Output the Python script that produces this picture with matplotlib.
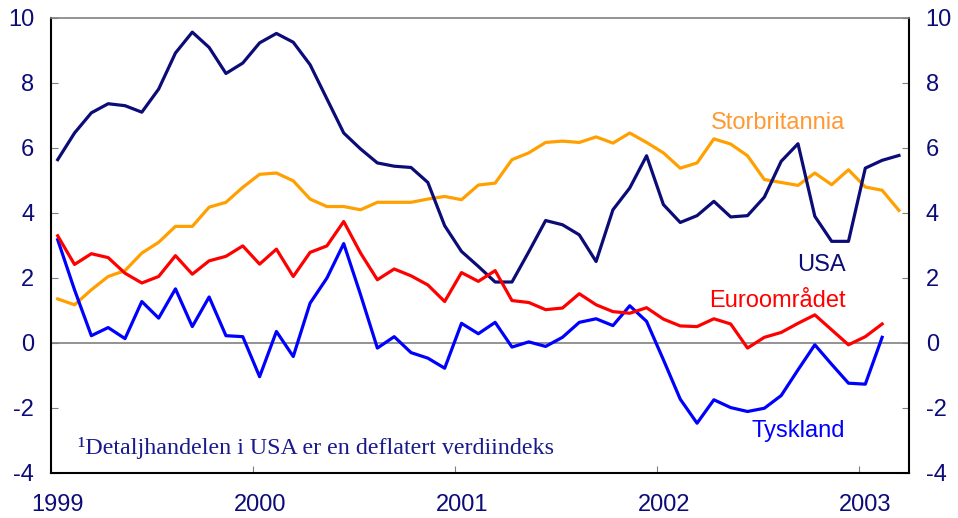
import matplotlib.pyplot as plt
import matplotlib.transforms as mtransforms
import numpy as np

plt.rcParams["font.family"] = ["Liberation Sans", "DejaVu Sans"]
plt.rcParams["axes.unicode_minus"] = False

# monthly values, Jan 1999 onwards
usa = [5.63, 6.45, 7.07, 7.35, 7.29, 7.09, 7.80, 8.91, 9.55, 9.08, 8.28, 8.60,
       9.22, 9.51, 9.24, 8.55, 7.50, 6.45, 5.96, 5.53, 5.43, 5.39, 4.93, 3.60,
       2.81, 2.35, 1.87, 1.87, 2.80, 3.76, 3.63, 3.32, 2.50, 4.09, 4.76, 5.75,
       4.25, 3.70, 3.91, 4.35, 3.87, 3.91, 4.48, 5.58, 6.12, 3.89, 3.12, 3.12,
       5.37, 5.61, 5.76]
uk = [1.35, 1.17, 1.63, 2.04, 2.22, 2.76, 3.09, 3.58, 3.58, 4.17, 4.32, 4.78,
      5.18, 5.22, 4.98, 4.42, 4.19, 4.19, 4.09, 4.32, 4.32, 4.32, 4.42, 4.50,
      4.40, 4.85, 4.91, 5.63, 5.84, 6.16, 6.20, 6.16, 6.33, 6.14, 6.45, 6.16,
      5.84, 5.37, 5.53, 6.27, 6.11, 5.75, 5.02, 4.93, 4.84, 5.22, 4.86, 5.32,
      4.79, 4.69, 4.07]
euro = [3.29, 2.41, 2.74, 2.62, 2.14, 1.84, 2.04, 2.68, 2.11, 2.52, 2.66, 2.98,
        2.42, 2.88, 2.04, 2.78, 2.98, 3.73, 2.76, 1.94, 2.27, 2.06, 1.78, 1.27,
        2.16, 1.89, 2.22, 1.30, 1.24, 1.02, 1.07, 1.51, 1.17, 0.96, 0.91, 1.08,
        0.73, 0.52, 0.50, 0.74, 0.58, -0.16, 0.17, 0.32, 0.60, 0.86, 0.40, -0.06,
        0.19, 0.58]
germany = [3.17, 1.63, 0.22, 0.47, 0.13, 1.27, 0.76, 1.66, 0.50, 1.41, 0.22, 0.19,
           -1.04, 0.35, -0.42, 1.22, 1.99, 3.05, 1.48, -0.16, 0.19, -0.30, -0.47, -0.78,
           0.60, 0.28, 0.63, -0.13, 0.03, -0.11, 0.17, 0.63, 0.74, 0.53, 1.14, 0.66,
           -0.52, -1.73, -2.47, -1.75, -1.99, -2.11, -2.01, -1.62, -0.83, -0.06, -0.66, -1.24,
           -1.27, 0.17]

years = [1999, 2000, 2001, 2002, 2003]
yticks = [-4, -2, 0, 2, 4, 6, 8, 10]


def month_pos(n):
    return 1999 + (np.arange(n) + 0.4) / 12


navy = "#0c0c78"
fig = plt.figure(figsize=(9.58, 5.18), dpi=100)
ax = fig.add_axes([0.0532, 0.0869, 0.8957, 0.8793])

ax.axhline(0, color="#808080", lw=1.2, zorder=1)
ax.plot(month_pos(len(uk)), uk, color="#ffa000", lw=2.3)
ax.plot(month_pos(len(usa)), usa, color=navy, lw=2.3)
ax.plot(month_pos(len(germany)), germany, color="#0000ff", lw=2.3)
ax.plot(month_pos(len(euro)), euro, color="#ff0000", lw=2.3)

ax.set_xlim(1999, 2003.25)
ax.set_ylim(-4, 10)
ax.set_xticks(years)
ax.set_xticklabels([str(y) for y in years])
ax.set_yticks(yticks)

ax.tick_params(axis="y", direction="in", length=5, color="#808080", labelsize=17,
               labelcolor=navy, pad=12, right=True, labelright=True)
ax.tick_params(axis="x", direction="in", length=5, color="#808080", labelsize=17,
               labelcolor=navy, pad=15)

shift = mtransforms.ScaledTranslation(7 / 100, 0, fig.dpi_scale_trans)
for lab in ax.get_xticklabels():
    lab.set_transform(lab.get_transform() + shift)

for side in ["left", "bottom", "right"]:
    ax.spines[side].set_color("black")
    ax.spines[side].set_linewidth(1.5)
ax.spines["top"].set_color("#808080")
ax.spines["top"].set_linewidth(1.2)

ax.text(2002.935, 6.75, "Storbritannia", color="#ff9933", fontsize=17,
        ha="right", va="center")
ax.text(2002.935, 2.4, "USA", color=navy, fontsize=17, ha="right", va="center")
ax.text(2002.935, 1.3, "Euroområdet", color="#ff0000", fontsize=17,
        ha="right", va="center")
ax.text(2002.935, -2.72, "Tyskland", color="#0000ff", fontsize=17,
        ha="right", va="center")
ax.text(1999.135, -3.24, "¹Detaljhandelen i USA er en deflatert verdiindeks",
        color="#1a1a8c", fontsize=17.3, family="Liberation Serif", ha="left", va="center")

fig.savefig("out.png", dpi=100)
